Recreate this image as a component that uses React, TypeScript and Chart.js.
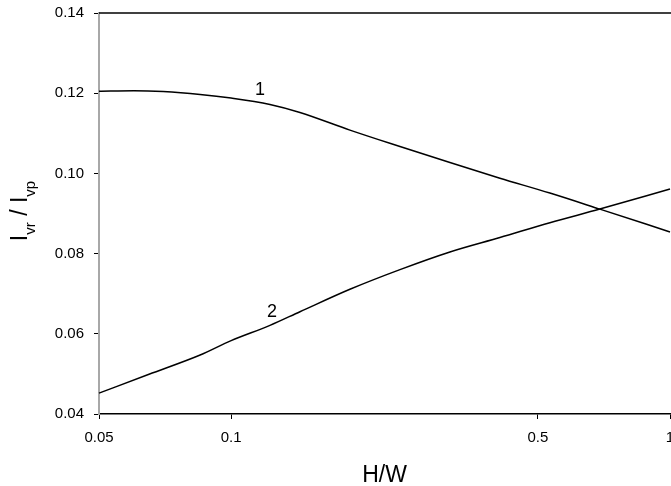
import React, { useEffect, useRef } from "react";
import { Chart, registerables } from "chart.js";

Chart.register(...registerables);

const curve1X = [0.05, 0.06, 0.07, 0.085, 0.1, 0.1226, 0.1435, 0.1865, 0.2425, 0.3152, 0.4097, 0.5325, 0.692, 1.0];
const curve1Y = [0.1205, 0.1206, 0.1204, 0.1197, 0.1188, 0.1172, 0.1152, 0.1108, 0.1067, 0.1027, 0.0988, 0.0951, 0.0911, 0.0854];

const curve2X = [0.05, 0.065, 0.085, 0.1, 0.1226, 0.1435, 0.1865, 0.2425, 0.3152, 0.4097, 0.5325, 0.692, 1.0];
const curve2Y = [0.0452, 0.0499, 0.0547, 0.0583, 0.0621, 0.0655, 0.0711, 0.0760, 0.0804, 0.0840, 0.0877, 0.0911, 0.0961];

const xTickValues = [0.05, 0.1, 0.5, 1];
const yMin = 0.04;
const yMax = 0.14;
const yStep = 0.02;

const curveLabels = ["1", "2"];
const curveLabelX = [0.1163, 0.1239];
const curveLabelY = [0.1208, 0.0655];

const FONT = "'Liberation Sans', Arial, sans-serif";

const decorPlugin = {
  id: "decor",
  afterDraw(chart: any) {
    const { ctx, chartArea, scales } = chart;
    const xs = scales.x;
    const ys = scales.y;
    ctx.save();
    // top frame line
    ctx.strokeStyle = "#000";
    ctx.lineWidth = 1.5;
    ctx.beginPath();
    ctx.moveTo(chartArea.left, chartArea.top);
    ctx.lineTo(chartArea.right + 2, chartArea.top);
    ctx.stroke();

    // curve labels
    ctx.fillStyle = "#000";
    ctx.font = `18px ${FONT}`;
    ctx.textAlign = "center";
    ctx.textBaseline = "middle";
    curveLabels.forEach((t, i) => {
      ctx.fillText(t, xs.getPixelForValue(curveLabelX[i]), ys.getPixelForValue(curveLabelY[i]));
    });

    // x title
    ctx.font = `23px ${FONT}`;
    ctx.textAlign = "center";
    ctx.textBaseline = "alphabetic";
    ctx.fillText("H/W", (chartArea.left + chartArea.right) / 2, 482);

    // y title with subscripts
    const big = `23px ${FONT}`;
    const small = `15px ${FONT}`;
    const parts: [string, boolean][] = [
      ["I", false],
      ["vr", true],
      [" / ", false],
      ["I", false],
      ["vp", true],
    ];
    let total = 0;
    const widths = parts.map(([t, sub]) => {
      ctx.font = sub ? small : big;
      const w = ctx.measureText(t).width;
      total += w;
      return w;
    });
    ctx.translate(27, 211);
    ctx.rotate(-Math.PI / 2);
    ctx.textAlign = "left";
    let x = -total / 2;
    parts.forEach(([t, sub], i) => {
      ctx.font = sub ? small : big;
      ctx.fillText(t, x, sub ? 8 : 0);
      x += widths[i];
    });
    ctx.restore();
  },
};

export default function App() {
  const ref = useRef<HTMLCanvasElement | null>(null);

  useEffect(() => {
    if (!ref.current) return;
    const chart = new Chart(ref.current, {
      type: "line",
      data: {
        datasets: [
          {
            data: curve1X.map((x, i) => ({ x, y: curve1Y[i] })),
            borderColor: "#000",
            borderWidth: 1.5,
            pointRadius: 0,
            fill: false,
            cubicInterpolationMode: "monotone",
          },
          {
            data: curve2X.map((x, i) => ({ x, y: curve2Y[i] })),
            borderColor: "#000",
            borderWidth: 1.5,
            pointRadius: 0,
            fill: false,
            cubicInterpolationMode: "monotone",
          },
        ],
      },
      options: {
        responsive: false,
        animation: false,
        clip: false as any,
        layout: { padding: { left: 0, top: 13, right: 50, bottom: 0 } },
        plugins: { legend: { display: false }, tooltip: { enabled: false } },
        scales: {
          x: {
            type: "logarithmic",
            min: 0.05,
            max: 1,
            afterBuildTicks: (scale: any) => {
              scale.ticks = xTickValues.map((v) => ({ value: v }));
            },
            afterFit: (scale: any) => {
              scale.height = 72;
              scale.paddingLeft = 0;
              scale.paddingRight = 0;
            },
            ticks: {
              color: "#000",
              font: { family: FONT, size: 15 },
              padding: 10,
              maxRotation: 0,
              autoSkip: false,
              callback: (v: any) => String(Number(v)),
            },
            grid: { drawOnChartArea: false, drawTicks: true, tickLength: 5, color: "#000", lineWidth: 1 },
            border: { color: "#000", width: 1.5 },
          },
          y: {
            type: "linear",
            min: yMin,
            max: yMax,
            afterFit: (scale: any) => {
              scale.width = 99;
              scale.paddingTop = 0;
              scale.paddingBottom = 0;
            },
            ticks: {
              stepSize: yStep,
              color: "#000",
              font: { family: FONT, size: 15 },
              padding: 10,
              callback: (v: any) => Number(v).toFixed(2),
            },
            grid: { drawOnChartArea: false, drawTicks: true, tickLength: 5, color: "#000", lineWidth: 1 },
            border: { color: "#a8a8a8", width: 2 },
          },
        },
      },
      plugins: [decorPlugin],
    } as any);
    return () => chart.destroy();
  }, []);

  return (
    <div style={{ position: "fixed", left: 0, top: 0, width: 671, height: 486, overflow: "hidden", background: "#fff" }}>
      <canvas ref={ref} width={720} height={486} style={{ display: "block" }} />
    </div>
  );
}
